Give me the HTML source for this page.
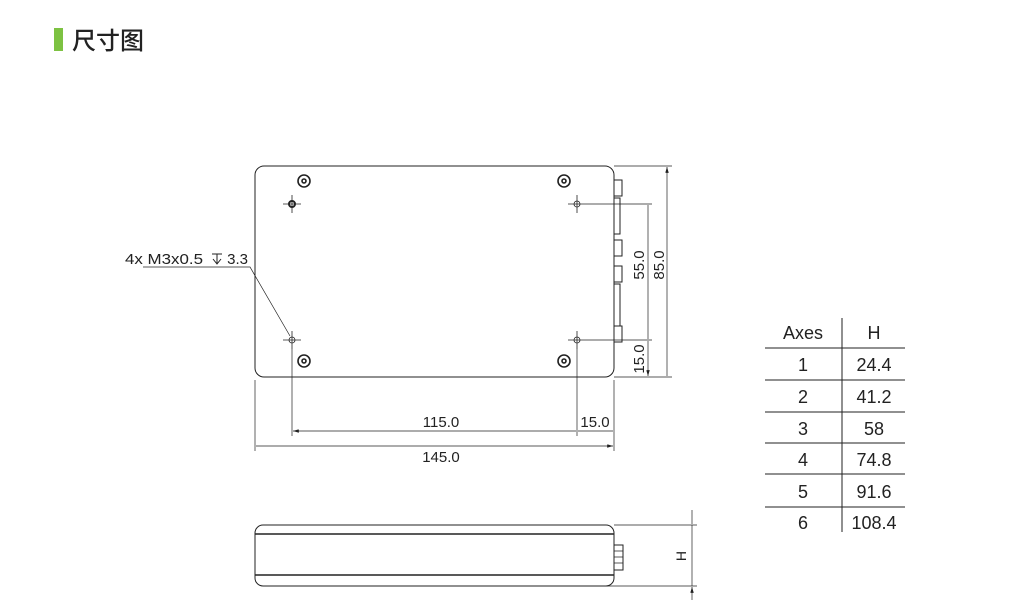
<!DOCTYPE html>
<html><head><meta charset="utf-8"><style>
html,body{margin:0;padding:0;background:#fff}
svg{display:block}
text{font-family:"Liberation Sans","Noto Sans CJK SC",sans-serif;fill:#222}
</style></head><body>
<svg width="1010" height="613" viewBox="0 0 1010 613" xmlns="http://www.w3.org/2000/svg">
<defs>
<marker id="a" viewBox="0 0 10 6" refX="10" refY="3" markerWidth="10" markerHeight="5" orient="auto-start-reverse"><path d="M0,0L10,3L0,6z" fill="#222"/></marker>
</defs>
<rect x="54" y="28" width="9" height="23" fill="#7dc242"/>
<text x="72" y="49" font-size="24" font-weight="500" font-family="Noto Sans CJK SC,sans-serif" fill="#222">尺寸图</text>

<g stroke="#222" fill="none" stroke-width="1">
<rect x="255" y="166" width="359" height="211" rx="9"/>
<g stroke-width="1.6">
<circle cx="304" cy="181" r="6"/><circle cx="304" cy="181" r="2"/>
<circle cx="564" cy="181" r="6"/><circle cx="564" cy="181" r="2"/>
<circle cx="304" cy="361" r="6"/><circle cx="304" cy="361" r="2"/>
<circle cx="564" cy="361" r="6"/><circle cx="564" cy="361" r="2"/>
</g>
<g stroke-width="0.8">
<circle cx="292" cy="204" r="3" stroke-width="2"/><path d="M283 204h18M292 195v18"/>
<circle cx="577" cy="204" r="3"/><path d="M568 204h18M577 195v18"/>
<circle cx="292" cy="340" r="3"/><path d="M283 340h18M292 331v18"/>
<circle cx="577" cy="340" r="3"/><path d="M568 340h18M577 331v18"/>
</g>
<g stroke-width="1">
<rect x="614" y="180" width="8" height="16"/>
<rect x="614" y="198" width="6" height="36"/>
<rect x="614" y="240" width="8" height="16"/>
<rect x="614" y="266" width="8" height="16"/>
<rect x="614" y="284" width="6" height="42"/>
<rect x="614" y="326" width="8" height="16"/>
</g>
<g stroke-width="0.7">
<path d="M614 166H672M614 377H672M586 204H652M586 340H652"/>
<path d="M667 167V376M648 205V339M648 341V376" marker-start="url(#a)" marker-end="url(#a)"/>
<path d="M292 349V436M577 349V436M614 380V451M255 380V451"/>
<path d="M293 431H576M578 431H613M256 446H613" marker-start="url(#a)" marker-end="url(#a)"/>
<path d="M143 267H250L290 336" />
</g>
<path d="M212 254h10M217 254v10M213 259l4 5l4-5" stroke-width="1"/>
<rect x="255" y="525" width="359" height="61" rx="8"/>
<path d="M255 534H614M255 575H614" stroke-width="1.6"/>
<rect x="614" y="545" width="9" height="25"/>
<path d="M614 551h9M614 557h9M614 563h9" stroke-width="0.7"/>
<g stroke-width="0.7">
<path d="M614 525H697M575 586H697"/>
<path d="M692 510V524M692 600V587" marker-end="url(#a)"/>
<path d="M692 525V586"/>
</g>
<g stroke-width="1">
<path d="M842 318V532"/>
<path d="M765 348H905M765 380H905M765 412H905M765 443H905M765 474H905M765 507H905"/>
</g>
</g>
<text x="125" y="264" font-size="15" textLength="78" lengthAdjust="spacingAndGlyphs">4x M3x0.5</text>
<text x="248" y="264" font-size="15" text-anchor="end">3.3</text>
<text x="441" y="427" font-size="15" text-anchor="middle">115.0</text>
<text x="595" y="427" font-size="15" text-anchor="middle">15.0</text>
<text x="441" y="462" font-size="15" text-anchor="middle">145.0</text>
<text transform="translate(644,265) rotate(-90)" font-size="15" text-anchor="middle">55.0</text>
<text transform="translate(664,265) rotate(-90)" font-size="15" text-anchor="middle">85.0</text>
<text transform="translate(644,359) rotate(-90)" font-size="15" text-anchor="middle">15.0</text>
<text transform="translate(686,556) rotate(-90)" font-size="14" text-anchor="middle">H</text>
<g font-size="18" text-anchor="middle">
<text x="803" y="339">Axes</text><text x="874" y="339">H</text>
<text x="803" y="371">1</text><text x="874" y="371">24.4</text>
<text x="803" y="403">2</text><text x="874" y="403">41.2</text>
<text x="803" y="435">3</text><text x="874" y="435">58</text>
<text x="803" y="466">4</text><text x="874" y="466">74.8</text>
<text x="803" y="498">5</text><text x="874" y="498">91.6</text>
<text x="803" y="529">6</text><text x="874" y="529">108.4</text>
</g>
</svg>
</body></html>
